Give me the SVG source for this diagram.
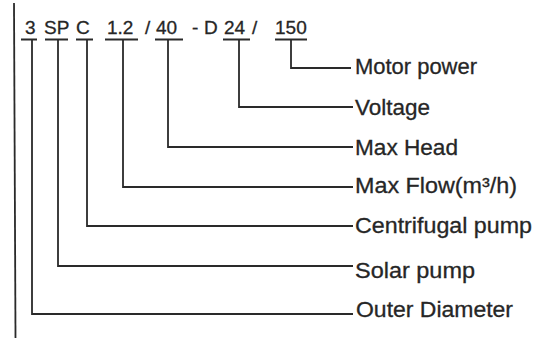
<svg xmlns="http://www.w3.org/2000/svg" width="539" height="344" viewBox="0 0 539 344">
<style>
.code{font-family:"Liberation Sans",Arial,sans-serif;font-size:19px;fill:#262626;stroke:#262626;stroke-width:0.3}
.lbl{font-family:"Liberation Sans",Arial,sans-serif;font-size:22px;fill:#262626;stroke:#262626;stroke-width:0.3}
.ln{fill:none;stroke:#2a2a2a;stroke-width:1.8}
</style>
<rect width="539" height="344" fill="#ffffff"/>
<g id="code">
<text class="code" x="25" y="34">3</text>
<text class="code" x="44" y="34">SP</text>
<text class="code" x="76" y="34">C</text>
<text class="code" x="107" y="34">1.2</text>
<text class="code" x="145" y="34">/</text>
<text class="code" x="156" y="34">40</text>
<text class="code" x="192" y="34">-</text>
<text class="code" x="204" y="34">D</text>
<text class="code" x="224" y="34">24</text>
<text class="code" x="252" y="34">/</text>
<text class="code" x="275" y="34">150</text>
</g>
<g id="underlines">
<path class="ln" d="M21 39.5H37M45 39.5H68M76 39.5H93M105 39.5H138M155 39.5H183M223 39.5H250M275 39.5H307"/>
<path class="ln" d="M14 3L15.5 338"/>
</g>
<g id="connectors">
<path class="ln" d="M291 39.5V68H351"/>
<path class="ln" d="M239 39.5V107H353"/>
<path class="ln" d="M168 39.5V147H353"/>
<path class="ln" d="M123 39.5V187H353"/>
<path class="ln" d="M87 39.5V226H353"/>
<path class="ln" d="M58 39.5V266H353"/>
<path class="ln" d="M32 39.5V314H353"/>
</g>
<g id="n-motor"><text class="lbl" x="355" y="74" textLength="122" lengthAdjust="spacingAndGlyphs">Motor power</text></g>
<g id="n-voltage"><text class="lbl" x="355" y="115" textLength="75" lengthAdjust="spacingAndGlyphs">Voltage</text></g>
<g id="n-head"><text class="lbl" x="355" y="155" textLength="103" lengthAdjust="spacingAndGlyphs">Max Head</text></g>
<g id="n-flow"><text class="lbl" x="355" y="193" textLength="162" lengthAdjust="spacingAndGlyphs">Max Flow(m³/h)</text></g>
<g id="n-centrifugal"><text class="lbl" x="355" y="233" textLength="177" lengthAdjust="spacingAndGlyphs">Centrifugal pump</text></g>
<g id="n-solar"><text class="lbl" x="355" y="278" textLength="120" lengthAdjust="spacingAndGlyphs">Solar pump</text></g>
<g id="n-outer"><text class="lbl" x="356" y="317" textLength="157" lengthAdjust="spacingAndGlyphs">Outer Diameter</text></g>
</svg>
